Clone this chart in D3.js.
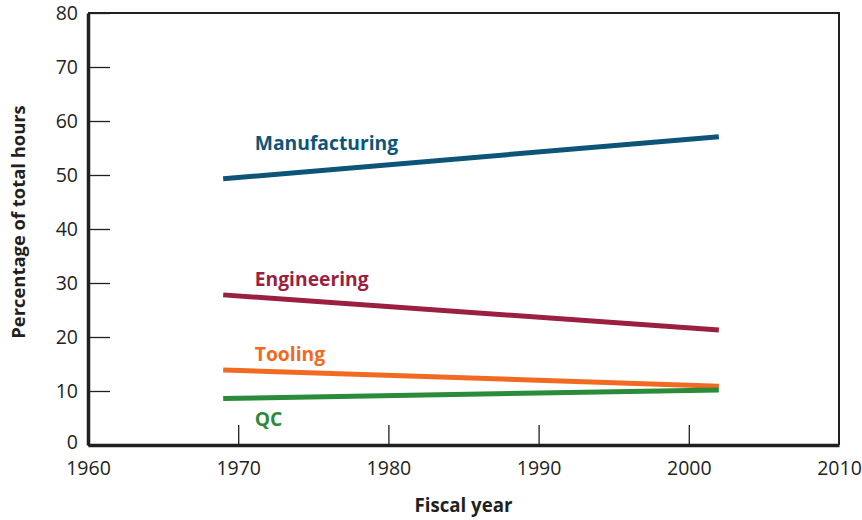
<!DOCTYPE html>
<html>
<head>
<meta charset="utf-8">
<script src="https://cdn.jsdelivr.net/npm/d3@7"></script>
<style>
  body { margin: 0; background: #fff; }
  text { font-family: "Open Sans", "Noto Sans", sans-serif; }
</style>
</head>
<body>
<div id="chart"></div>
<script>
// data
var years = [1969, 2002];
var seriesNames = ["Manufacturing", "Engineering", "Tooling", "QC"];
var manufacturing = [49.3, 57.1];
var engineering = [27.8, 21.3];
var tooling = [13.9, 10.9];
var qc = [8.6, 10.2];
var seriesColors = ["#0d5479", "#9a1f41", "#f26a21", "#2a8b3b"];
var labelPos = [[1971.1, 54.6], [1971.1, 29.4], [1971.1, 15.5], [1971.1, 3.6]];
var xTicks = [1960, 1970, 1980, 1990, 2000, 2010];
var yTicks = [0, 10, 20, 30, 40, 50, 60, 70, 80];

var width = 862, height = 520;
var margin = { top: 13, right: 23, bottom: 75, left: 88 };

var svg = d3.select("#chart").append("svg")
    .attr("width", width)
    .attr("height", height);

var x = d3.scaleLinear().domain([1960, 2010]).range([margin.left, width - margin.right]);
var y = d3.scaleLinear().domain([0, 80]).range([height - margin.bottom, margin.top]);

// frame (top + right thin)
svg.append("path")
    .attr("d", "M" + x(1960) + "," + y(80) + "H" + x(2010) + "V" + y(0))
    .attr("fill", "none")
    .attr("stroke", "#231f20")
    .attr("stroke-width", 2);

// y axis, ticks pointing inside
var yAxis = svg.append("g")
    .attr("transform", "translate(" + x(1960) + ",0)")
    .call(d3.axisLeft(y).tickValues(yTicks).tickSizeInner(-22).tickSizeOuter(0).tickPadding(9));
yAxis.select(".domain").attr("stroke", "#231f20").attr("stroke-width", 3.5);
yAxis.selectAll(".tick line").attr("stroke", "#231f20").attr("stroke-width", 1.3);
yAxis.selectAll(".tick text").attr("font-size", 19.5).attr("fill", "#231f20").attr("x", -10);
yAxis.selectAll(".tick text").filter(function(d) { return d === 0; }).attr("dy", "0.2em");

// x axis, ticks pointing inside
var xAxis = svg.append("g")
    .attr("transform", "translate(0," + y(0) + ")")
    .call(d3.axisBottom(x).tickValues(xTicks).tickFormat(d3.format("d")).tickSizeInner(-20).tickSizeOuter(0).tickPadding(10));
xAxis.select(".domain").attr("stroke", "#231f20").attr("stroke-width", 3.5);
xAxis.selectAll(".tick line").attr("stroke", "#231f20").attr("stroke-width", 1.3)
    .filter(function(d) { return d === 1960 || d === 2010; }).remove();
xAxis.selectAll(".tick text").attr("font-size", 19.5).attr("fill", "#231f20").attr("y", 16);

// lines
var allSeries = [manufacturing, engineering, tooling, qc];
var line = d3.line()
    .x(function(d, i) { return x(years[i]); })
    .y(function(d) { return y(d); });

svg.selectAll(".series")
    .data(allSeries)
    .enter().append("path")
    .attr("class", "series")
    .attr("d", line)
    .attr("fill", "none")
    .attr("stroke", function(d, i) { return seriesColors[i]; })
    .attr("stroke-width", 5);

// series labels
svg.selectAll(".label")
    .data(seriesNames)
    .enter().append("text")
    .attr("class", "label")
    .attr("x", function(d, i) { return x(labelPos[i][0]); })
    .attr("y", function(d, i) { return y(labelPos[i][1]); })
    .attr("font-size", 19.3)
    .attr("font-weight", "bold")
    .attr("fill", function(d, i) { return seriesColors[i]; })
    .text(function(d) { return d; });

// axis titles
svg.append("text")
    .attr("x", (x(1960) + x(2010)) / 2)
    .attr("y", 512)
    .attr("text-anchor", "middle")
    .attr("font-size", 18.7)
    .attr("font-weight", "bold")
    .attr("fill", "#231f20")
    .text("Fiscal year");

svg.append("text")
    .attr("transform", "translate(25,222) rotate(-90)")
    .attr("text-anchor", "middle")
    .attr("font-size", 18.4)
    .attr("font-weight", "bold")
    .attr("fill", "#231f20")
    .text("Percentage of total hours");
</script>
</body>
</html>
